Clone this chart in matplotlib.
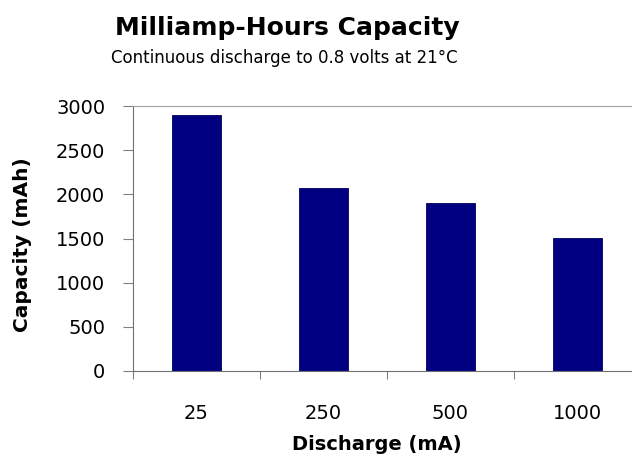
import matplotlib.pyplot as plt
import numpy as np

# discharge rates (mA) and delivered capacity (mAh)
discharge = ["25", "250", "500", "1000"]
capacity = [2900, 2075, 1900, 1510]
y_ticks = [0, 500, 1000, 1500, 2000, 2500, 3000]

W, H = 632, 457
fig = plt.figure(figsize=(W / 100, H / 100), dpi=100)
plt.rcParams["font.family"] = ["DejaVu Sans"]

# plot area in pixel terms, right edge runs past the figure
left, right, top, bottom = 133, 641, 106, 371
ax = fig.add_axes([left / W, 1 - bottom / H, (right - left) / W, (bottom - top) / H])

x = np.arange(len(discharge))
ax.bar(x, capacity, width=0.39, color="#000080", edgecolor="#000060", linewidth=0.6)

ax.set_xlim(-0.5, len(discharge) - 0.5)
ax.set_ylim(0, 3000)
ax.set_yticks(y_ticks)
ax.set_yticklabels([str(v) for v in y_ticks], fontsize=14)

# category boundaries carry the tick marks, labels sit at the bar centres
ax.set_xticks(np.arange(-0.5, len(discharge), 1.0))
ax.set_xticklabels([])
ax.set_xticks(x, minor=True)
ax.set_xticklabels(discharge, minor=True, fontsize=14)
ax.tick_params(axis="x", which="major", length=6, color="#808080", direction="out")
ax.tick_params(axis="x", which="minor", length=0, pad=24)
ax.tick_params(axis="y", length=7, color="#808080", direction="out", pad=13)

for side in ["left", "bottom"]:
    ax.spines[side].set_color("#707070")
ax.spines["top"].set_color("#a0a0a0")
ax.spines["right"].set_visible(False)

fig.text(287 / W, 1 - 28 / H, "Milliamp-Hours Capacity", ha="center", va="center",
         fontsize=18, fontweight="bold")
fig.text(284 / W, 1 - 58 / H, "Continuous discharge to 0.8 volts at 21°C", ha="center",
         va="center", fontsize=12)
fig.text(23 / W, 1 - 245 / H, "Capacity (mAh)", rotation=90, ha="center", va="center",
         fontsize=14.5, fontweight="bold")
fig.text(377 / W, 1 - 445 / H, "Discharge (mA)", ha="center", va="center",
         fontsize=14, fontweight="bold")

fig.savefig("out.png", dpi=100)
